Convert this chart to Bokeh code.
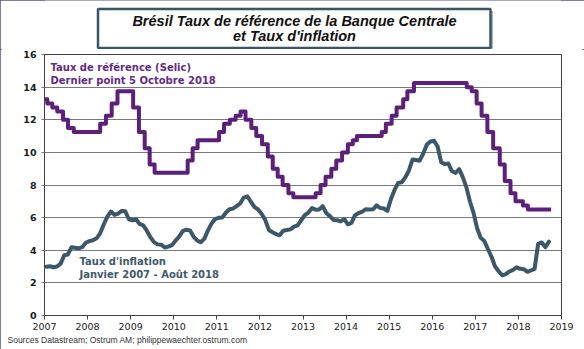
import numpy as np
import pandas as pd
from bokeh.plotting import figure
from bokeh.layouts import column
from bokeh.models import FixedTicker, Label, Range1d, Title
from bokeh.core.properties import value
from bokeh.embed import file_html
from bokeh.resources import INLINE

# ---------------- data ----------------
selic_dates = [
    "2007-01-01", "2007-01-25", "2007-03-08", "2007-04-19", "2007-06-07", "2007-07-19",
    "2007-09-06", "2008-04-17", "2008-06-05", "2008-07-24", "2008-09-11", "2009-01-22",
    "2009-03-12", "2009-04-30", "2009-06-11", "2009-07-23", "2010-04-29", "2010-06-10",
    "2010-07-22", "2011-01-20", "2011-03-03", "2011-04-21", "2011-06-09", "2011-07-21",
    "2011-09-01", "2011-10-20", "2011-12-01", "2012-01-19", "2012-03-08", "2012-04-19",
    "2012-05-31", "2012-07-12", "2012-08-30", "2012-10-11", "2013-04-18", "2013-05-30",
    "2013-07-11", "2013-08-29", "2013-10-10", "2013-11-28", "2014-01-16", "2014-02-27",
    "2014-04-03", "2014-10-30", "2014-12-04", "2015-01-22", "2015-03-05", "2015-04-30",
    "2015-06-04", "2015-07-30", "2016-10-20", "2016-12-01", "2017-01-12", "2017-02-23",
    "2017-04-13", "2017-06-01", "2017-07-27", "2017-09-07", "2017-10-26", "2017-12-07",
    "2018-02-08", "2018-03-22", "2018-10-05",
]
selic_rates = [
    13.25, 13.00, 12.75, 12.50, 12.00, 11.50,
    11.25, 11.75, 12.25, 13.00, 13.75, 12.75,
    11.25, 10.25, 9.25, 8.75, 9.50, 10.25,
    10.75, 11.25, 11.75, 12.00, 12.25, 12.50,
    12.00, 11.50, 11.00, 10.50, 9.75, 9.00,
    8.50, 8.00, 7.50, 7.25, 7.50, 8.00,
    8.50, 9.00, 9.50, 10.00, 10.50, 10.75,
    11.00, 11.25, 11.75, 12.25, 12.75, 13.25,
    13.75, 14.25, 14.00, 13.75, 13.00, 12.25,
    11.25, 10.25, 9.25, 8.25, 7.50, 7.00,
    6.75, 6.50, 6.50,
]

infl_start = "2007-01"
infl_values = [
    2.99, 3.02, 2.96, 3.00, 3.18, 3.69, 3.74, 4.18, 4.15, 4.12, 4.19, 4.46,
    4.56, 4.61, 4.73, 5.04, 5.58, 6.06, 6.37, 6.17, 6.25, 6.41, 6.39, 5.90,
    5.84, 5.90, 5.61, 5.53, 5.20, 4.80, 4.50, 4.36, 4.34, 4.17, 4.22, 4.31,
    4.59, 4.83, 5.17, 5.26, 5.22, 4.84, 4.60, 4.49, 4.70, 5.20, 5.63, 5.91,
    5.99, 6.01, 6.30, 6.51, 6.55, 6.71, 6.87, 7.23, 7.31, 6.97, 6.64, 6.50,
    6.22, 5.85, 5.24, 5.10, 4.99, 4.92, 5.20, 5.24, 5.28, 5.45, 5.53, 5.84,
    6.15, 6.31, 6.59, 6.49, 6.50, 6.70, 6.27, 6.09, 5.86, 5.84, 5.77, 5.91,
    5.59, 5.68, 6.15, 6.28, 6.37, 6.52, 6.50, 6.51, 6.75, 6.59, 6.56, 6.41,
    7.14, 7.70, 8.13, 8.17, 8.47, 8.89, 9.56, 9.53, 9.49, 9.93, 10.48, 10.67,
    10.71, 10.36, 9.39, 9.28, 9.32, 8.84, 8.74, 8.97, 8.48, 7.87, 6.99, 6.29,
    5.35, 4.76, 4.57, 4.08, 3.60, 3.00, 2.71, 2.46, 2.54, 2.70, 2.80, 2.95,
    2.86, 2.84, 2.68, 2.76, 2.86, 4.39, 4.48, 4.19, 4.53,
]

year_ticks = list(range(2007, 2020))
y_ticks = [0, 2, 4, 6, 8, 10, 12, 14, 16]

title_lines = ["Brésil Taux de référence de la Banque Centrale", "et Taux d'inflation"]
selic_note = ["Taux de référence (Selic)", "Dernier point 5 Octobre 2018"]
infl_note = ["Taux d'inflation", "Janvier 2007 - Août 2018"]
source_text = "Sources Datastream; Ostrum AM; philippewaechter.ostrum.com"

# ---------------- conversion to fractional years ----------------
d = pd.to_datetime(selic_dates)
days = np.where(d.is_leap_year, 366.0, 365.0)
selic_x = list(np.asarray(d.year, dtype=float) + (np.asarray(d.dayofyear) - 1) / days)

months = pd.period_range(infl_start, periods=len(infl_values), freq="M")
infl_x = list(np.asarray(months.year, dtype=float) + (np.asarray(months.month) - 0.5) / 12.0)

# ---------------- layout constants ----------------
W, H = 584, 349
TH = 49                      # height of the title strip
FL, FR, FT, FB = 44, 561, 54, 315  # frame edges in page pixels
MH = H - TH                  # main figure height

# ---------------- title strip (frame aligned with main frame; x in page pixels) ----------------
tf = figure(width=W, height=TH, output_backend="svg", toolbar_location=None,
            x_range=Range1d(FL, FR), y_range=Range1d(0, TH),
            x_axis_type=None, y_axis_type=None,
            min_border_left=FL, min_border_right=W - FR,
            min_border_top=0, min_border_bottom=0)
tf.grid.grid_line_color = None
tf.outline_line_color = None
tf.background_fill_color = "white"
tf.border_fill_color = "white"
tf.quad(left=[99.5], right=[492.5], top=[TH - 10.5], bottom=[-2],
        fill_color="#aeb5bc", line_color=None)
tf.quad(left=[97.5], right=[490], top=[TH - 8.5], bottom=[TH - 47.5],
        fill_color="white", line_color="#3b5466", line_width=2.5)
tf.text(x=[294, 294], y=[TH - 20, TH - 35], text=title_lines,
        text_align="center", text_baseline="alphabetic",
        text_font=value("Liberation Sans"), text_font_size="14.5px",
        text_font_style="bold italic", text_color="#111111")

# ---------------- main figure ----------------
p = figure(width=W, height=MH, output_backend="svg", toolbar_location=None,
           x_range=Range1d(2007, 2019), y_range=Range1d(0, 16),
           min_border_left=FL, min_border_right=W - FR,
           min_border_top=FT - TH, min_border_bottom=H - FB)

p.background_fill_color = "white"
p.border_fill_color = "white"
p.outline_line_color = "#404040"
p.outline_line_width = 1

p.xgrid.grid_line_color = None
p.ygrid.grid_line_color = "#7a7a7a"
p.ygrid.grid_line_width = 1

p.yaxis.ticker = FixedTicker(ticks=y_ticks)
p.xaxis.ticker = FixedTicker(ticks=year_ticks)
p.xaxis.minor_tick_line_color = None
p.yaxis.minor_tick_line_color = None

for ax in (p.xaxis[0], p.yaxis[0]):
    ax.axis_line_color = "#404040"
    ax.major_tick_line_color = "#404040"
    ax.major_tick_in = 0
    ax.major_label_text_font = "DejaVu Sans"
    ax.major_label_text_color = "#1a1a1a"

p.yaxis.major_tick_out = 3
p.yaxis.major_tick_line_color = "#808080"
p.yaxis.major_label_standoff = 5
p.yaxis.major_label_text_font_size = "9.5px"
p.yaxis.major_label_text_font_style = "bold"

p.xaxis.major_tick_out = 4
p.xaxis.major_label_standoff = 3
p.xaxis.major_label_text_font_size = "9.5px"
p.xaxis.major_label_text_font_style = "normal"

# ---------------- series ----------------
p.step(selic_x, selic_rates, mode="after", line_color="#5c1f7a", line_width=4,
       line_join="round")
p.line(infl_x, infl_values, line_color="#3b5769", line_width=4,
       line_join="round", line_cap="round")

# ---------------- annotations inside the frame ----------------
def lab(x, y, text, **kw):
    base = dict(x=x - FL, y=FB - y, x_units="screen", y_units="screen",
                text=text, text_baseline="alphabetic")
    base.update(kw)
    p.add_layout(Label(**base))

note_style = dict(text_font="DejaVu Sans", text_font_size="10px", text_font_style="bold")
lab(50, 67, selic_note[0], text_color="#632b86", **note_style)
lab(50, 79.5, selic_note[1], text_color="#632b86", **note_style)
lab(79, 261, infl_note[0], text_color="#3e5a6b", **note_style)
lab(79, 273.5, infl_note[1], text_color="#3e5a6b", **note_style)

# ---------------- source (below) ----------------
s = Title(text=source_text, align="left", offset=-37, standoff=0,
          text_font="Liberation Sans", text_font_size="8.5px",
          text_font_style="normal", text_color="#333333")
p.add_layout(s, "below")

layout = column(tf, p, spacing=0,
                styles={"outline": "2px solid #5b5189", "outline-offset": "-2px"})

open("out.html", "w").write(file_html(layout, INLINE))
